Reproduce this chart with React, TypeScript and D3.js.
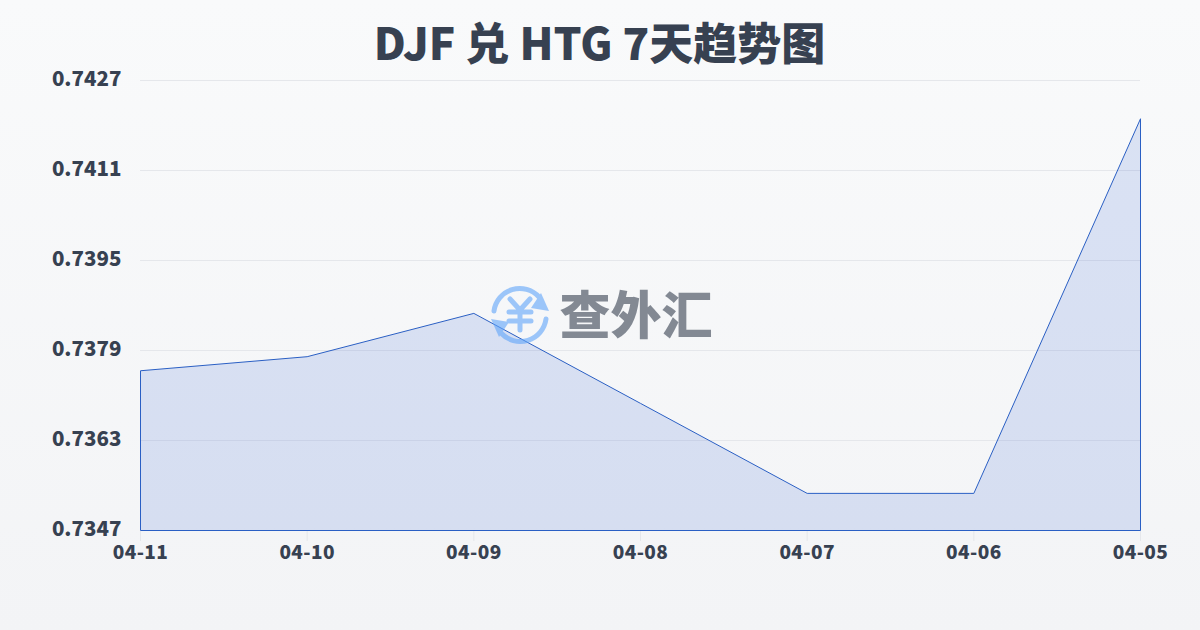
import React from "react";
import * as d3 from "d3";

const dates = ["04-11", "04-10", "04-09", "04-08", "04-07", "04-06", "04-05"];
const rates = [0.73754, 0.73779, 0.73856, 0.73696, 0.73536, 0.73536, 0.74202];
const yTicks = [0.7347, 0.7363, 0.7379, 0.7395, 0.7411, 0.7427];
const titleText = "DJF 兑 HTG 7天趋势图";
const watermarkText = "查外汇";

const FONT = '"Noto Sans CJK SC", sans-serif';
const INK = "#374151";

export default function App() {
  const x = d3.scalePoint<string>().domain(dates).range([140.5, 1140.5]);
  const y = d3.scaleLinear().domain([0.7347, 0.7427]).range([530.5, 80.5]);
  const px = (_: number, i: number) => x(dates[i]) as number;
  const line = d3.line<number>().x(px).y((d) => y(d));
  const area = d3.area<number>().x(px).y0(y(0.7347)).y1((d) => y(d));
  const outline = `M${x(dates[0])},${y(0.7347)}L${(line(rates) as string).slice(1)}L${x(dates[6])},${y(0.7347)}Z`;
  return (
    <svg
      width={1200}
      height={630}
      viewBox="0 0 1200 630"
      style={{ position: "fixed", left: 0, top: 0, display: "block" }}
    >
      <defs>
        <linearGradient id="bg" x1="0" y1="0" x2="0" y2="1">
          <stop offset="0" stopColor="#f9fafb" />
          <stop offset="1" stopColor="#f3f4f6" />
        </linearGradient>
      </defs>
      <rect width={1200} height={630} fill="url(#bg)" />
      <text
        x={599.5}
        y={60}
        textAnchor="middle"
        fontFamily={FONT}
        fontWeight={900}
        fontSize={44}
        fill={INK}
      >
        {titleText}
      </text>
      {yTicks.map((t) => (
        <g key={t}>
          {t !== 0.7347 && (
            <line x1={140} x2={1140} y1={y(t)} y2={y(t)} stroke="#e5e7eb" strokeWidth={1} />
          )}
          <text
            x={121.5}
            y={y(t) + 5}
            textAnchor="end"
            fontFamily={FONT}
            fontWeight={900}
            fontSize={20.5}
            fill={INK}
          >
            {t.toFixed(4)}
          </text>
        </g>
      ))}
      <path d={area(rates) as string} fill="#3060d0" fillOpacity={0.15} />
      <path d={outline} fill="none" stroke="#2a5fc4" strokeWidth={1} />
      {dates.map((d) => (
        <g key={d}>
          <line x1={x(d)} x2={x(d)} y1={531} y2={541} stroke="#e5e7eb" strokeWidth={1} />
          <text
            x={x(d)}
            y={559}
            textAnchor="middle"
            fontFamily={FONT}
            fontWeight={900}
            fontSize={19}
            letterSpacing={0.4}
            fill={INK}
          >
            {d}
          </text>
        </g>
      ))}
      <g opacity={0.6}>
        <g transform="translate(520,315)" fill="none" stroke="#60a5fa" strokeWidth={5} strokeLinecap="round">
          <path d="M-26,-4 A26,26 0 0 1 19,-18" />
          <path d="M26,4 A26,26 0 0 1 -19,18" />
          <path d="M21,-22 L29,-4 L11,-7 Z" fill="#60a5fa" stroke="none" />
          <path d="M-21,22 L-29,4 L-11,7 Z" fill="#60a5fa" stroke="none" />
          <path d="M-10,-16 L0,-5 L10,-16 M-11,-3 H11 M-11,6 H11 M0,-5 V15" strokeWidth={5} />
        </g>
        <text
          x={559.5}
          y={333.5}
          fontFamily={FONT}
          fontWeight={900}
          fontSize={51}
          fill="#374151"
        >
          {watermarkText}
        </text>
      </g>
    </svg>
  );
}
